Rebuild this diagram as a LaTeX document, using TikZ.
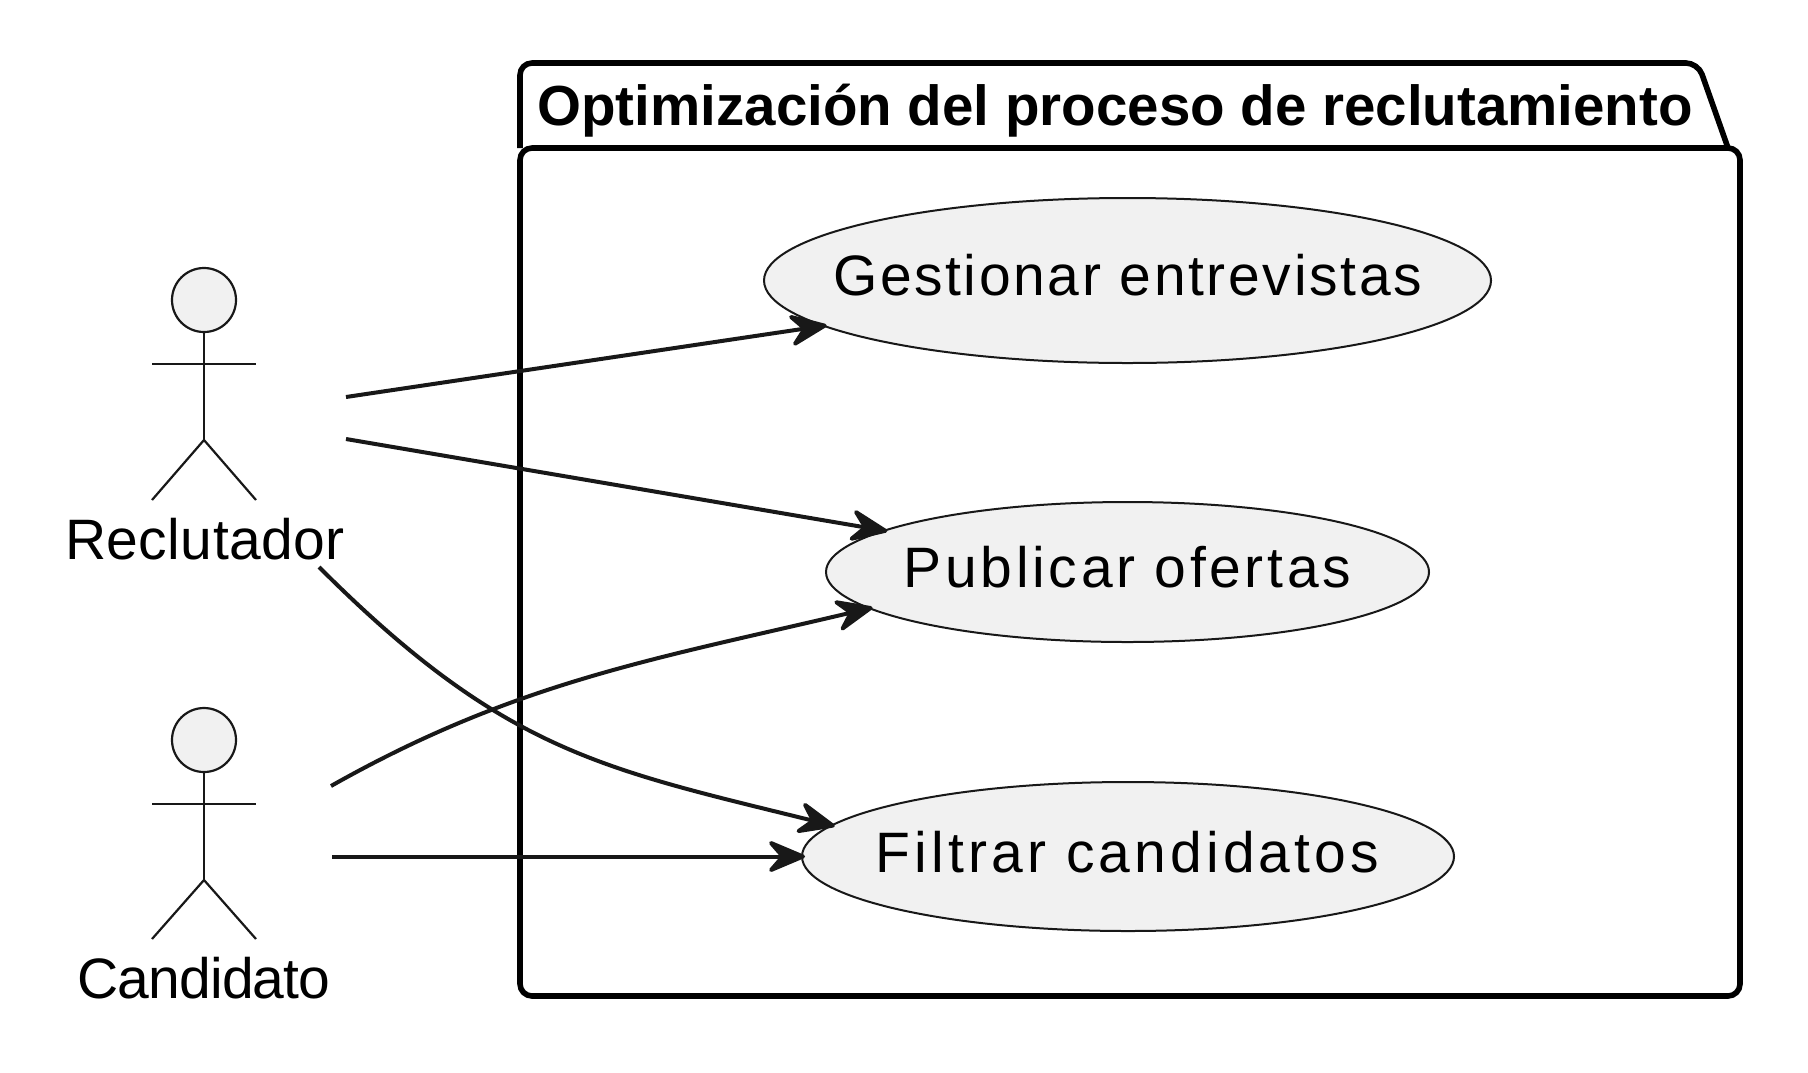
\documentclass[tikz,border=0pt]{standalone}
\usepackage{fontspec}
\setmainfont{Liberation Sans}
\usetikzlibrary{arrows.meta,shapes.geometric}
\definecolor{ink}{HTML}{181818}
\definecolor{pale}{HTML}{F1F1F1}
\tikzset{
  ucase/.style={ellipse,draw=ink,fill=pale,line width=1pt,inner sep=0pt,outer sep=0pt},
  uctext/.style={anchor=base,inner sep=0pt,text=black,font=\fontsize{28.5}{34}\selectfont},
  actorlabel/.style={anchor=base,inner sep=0pt,text=black,font=\fontsize{28.5}{34}\selectfont},
  pkgtitle/.style={anchor=base west,inner sep=0pt,text=black,font=\bfseries\fontsize{28.25}{34}\selectfont},
  pkg/.style={draw=black,line width=2.8pt,rounded corners=6pt,line join=round},
  limb/.style={draw=ink,line width=1.1pt},
  headshape/.style={circle,draw=ink,fill=pale,line width=1.1pt,minimum size=32pt,inner sep=0pt,outer sep=0pt},
  link/.style={draw=ink,line width=2pt,shorten >=-1.5pt,-{Stealth[length=22pt,width=18.5pt,inset=8pt,round]}}
}
\begin{document}
\begin{tikzpicture}[x=0.5pt,y=-0.5pt]
\useasboundingbox (0,0) rectangle (1808,1072);
% package
\draw[pkg] (520,148) -- (520,63) -- (1698,63) -- (1728,148);
\draw[pkg] (520,148) -- (1740,148) -- (1740,996) -- (520,996) -- cycle;
\node[pkgtitle] (title) at (537,125) {Optimización del proceso de reclutamiento};
% use cases
\node[ucase,minimum width=363.5pt,minimum height=82.5pt] (ges) at (1127.5,280.5) {};
\node[ucase,minimum width=301.5pt,minimum height=70pt] (pub) at (1127.5,572) {};
\node[ucase,minimum width=326pt,minimum height=74.5pt] (fil) at (1128,856.5) {};
\node[uctext] (gestxt) at (1127.5,295) {\addfontfeature{LetterSpace=4.65}Gestionar entrevistas};
\node[uctext] (pubtxt) at (1127.5,587) {\addfontfeature{LetterSpace=6.4}Publicar ofertas};
\node[uctext] (filtxt) at (1127.5,872) {\addfontfeature{LetterSpace=7.25}Filtrar candidatos};
% actor Reclutador
\node[headshape] (rhead) at (204,300) {};
\coordinate (rhip) at (204,440);
\coordinate (rarmL) at (152,364);
\coordinate (rarmR) at (256,364);
\coordinate (rfootL) at (152,500);
\coordinate (rfootR) at (256,500);
\draw[limb] (rhead.south) -- (rhip);
\draw[limb] (rarmL) -- (rarmR);
\draw[limb] (rfootL) -- (rhip) -- (rfootR);
\node[actorlabel] (rlabel) at (205,559) {\addfontfeature{LetterSpace=0.7}Reclutador};
% actor Candidato
\node[headshape] (chead) at (204,740) {};
\coordinate (chip) at (204,880);
\coordinate (carmL) at (152,804);
\coordinate (carmR) at (256,804);
\coordinate (cfootL) at (152,939);
\coordinate (cfootR) at (256,939);
\draw[limb] (chead.south) -- (chip);
\draw[limb] (carmL) -- (carmR);
\draw[limb] (cfootL) -- (chip) -- (cfootR);
\node[actorlabel] (clabel) at (204,998) {\addfontfeature{LetterSpace=-1.5}Candidato};
% connectors
\coordinate (rs1) at (346,397);
\coordinate (rs2) at (346,439);
\coordinate (rs3) at (319,567);
\coordinate (cs1) at (331,786);
\coordinate (cs2) at (332,856.5);
\draw[link] (rs1) -- (ges);
\draw[link] (rs2) -- (pub);
\draw[link] (rs3) .. controls (504,752) and (602,768.5) .. (fil.174);
\draw[link] (cs1) .. controls (515,682) and (655,659) .. (pub.188.7);
\draw[link] (cs2) -- (fil);
\end{tikzpicture}
\end{document}
